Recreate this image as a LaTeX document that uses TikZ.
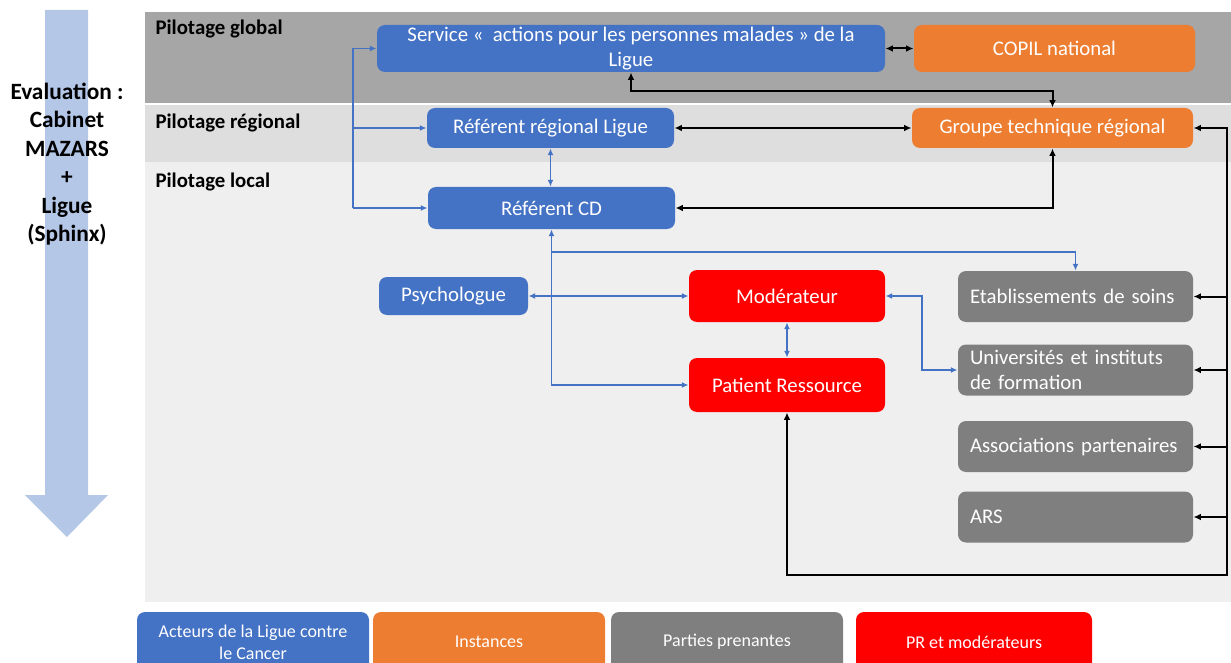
\documentclass[tikz,border=0pt]{standalone}
\usepackage{fontspec}
\setmainfont{Carlito}
\usetikzlibrary{arrows.meta}

\definecolor{ligueblue}{RGB}{68,114,196}
\definecolor{instorange}{RGB}{237,125,49}
\definecolor{partgray}{RGB}{127,127,127}
\definecolor{prred}{RGB}{255,0,0}
\definecolor{bandglobal}{RGB}{166,166,166}
\definecolor{bandreg}{RGB}{222,222,222}
\definecolor{bandloc}{RGB}{239,239,239}
\definecolor{evalarrow}{RGB}{180,199,231}

\tikzset{every picture/.style={line width=0.75pt},
  panel/.style={rounded corners=6pt, text=white, inner sep=0pt, align=center, font=\fontsize{15.6}{18.75}\selectfont},
  acteur/.style={panel, fill=ligueblue},
  instance/.style={panel, fill=instorange},
  prbox/.style={panel, fill=prred},
  partie/.style={panel, fill=partgray, align=left, text width=158.25pt, inner xsep=9pt, minimum width=176.25pt, minimum height=38.25pt},
  legbox/.style={panel, minimum width=174pt, minimum height=45pt, font=\fontsize{13.5}{16.5}\selectfont},
  bandlabel/.style={anchor=west, inner sep=0pt, font=\bfseries\fontsize{15.6}{18}\selectfont},
  bline/.style={draw=ligueblue, line width=1.1pt, -{Latex[length=5pt,width=4.5pt]}},
  kline/.style={draw=black, line width=1.5pt, -{Latex[length=5.5pt,width=5pt]}},
}

\begin{document}
\begin{tikzpicture}[x=0.75pt,y=0.75pt,yscale=-1,xscale=1]
\clip (0,0) rectangle (1231,663);

% bandes de pilotage
\fill[bandglobal] (145,12) rectangle (1231,103);
\fill[bandreg] (145,105) rectangle (1231,162);
\fill[bandloc] (145,162) rectangle (1231,602);
\node[bandlabel] (pglobal) at (155,29) {Pilotage global};
\node[bandlabel] (pregional) at (155,123) {Pilotage régional};
\node[bandlabel] (plocal) at (155,182) {Pilotage local};

% fleche evaluation
\fill[evalarrow] (45,10) -- (88,10) -- (88,495) -- (108,495) -- (67,537) -- (25,495) -- (45,495) -- cycle;
\node[align=center, font=\bfseries\fontsize{17.5}{21.4}\selectfont] (evaluation) at (67,164) {Evaluation :\\Cabinet\\MAZARS\\+\\Ligue\\(Sphinx)};

% acteurs
\node[acteur, minimum width=381pt, minimum height=35.25pt] (service) at (631,48.5) {Service «\ \ actions pour les personnes malades » de la\\Ligue};
\node[instance, minimum width=210.75pt, minimum height=35.25pt] (copil) at (1054.5,48.5) {COPIL national};
\node[acteur, minimum width=185.25pt, minimum height=30pt] (refreg) at (550.5,128) {Référent régional Ligue};
\node[instance, minimum width=210.75pt, minimum height=30pt] (gtr) at (1052.5,128) {Groupe technique régional};
\node[acteur, minimum width=185.25pt, minimum height=31.5pt] (refcd) at (551.5,208) {Référent CD};
\node[acteur, minimum width=111.75pt, minimum height=28.5pt] (psy) at (453.5,296) {Psychologue};
\node[prbox, minimum width=147pt, minimum height=39pt] (mod) at (787,296) {Modérateur};
\node[prbox, minimum width=147pt, minimum height=40.5pt] (pr) at (787,385) {Patient Ressource};
\node[partie] (etab) at (1075.5,296.5) {Etablissements de soins};
\node[partie] (univ) at (1075.5,370) {Universités et instituts\\de formation};
\node[partie] (assoc) at (1075.5,446.5) {Associations partenaires};
\node[partie] (ars) at (1075.5,517) {ARS};

% legende
\node[legbox, fill=ligueblue] (legacteur) at (253,642) {Acteurs de la Ligue contre\\le Cancer};
\node[legbox, fill=instorange] (leginstance) at (489,642) {Instances};
\node[legbox, fill=partgray] (legpartie) at (727,642) {Parties prenantes};
\node[legbox, fill=prred, minimum width=177pt] (legpr) at (974,642) {PR et modérateurs};

% liens bleus
\coordinate (bus1) at (353,48.5);
\coordinate (bus2) at (353,208);
\draw[bline, -] (bus1) -- (bus2);
\draw[bline] (bus1) -- (service.west);
\draw[bline] (bus1 |- refreg) -- (refreg.west);
\draw[bline] (bus2) -- (refcd.west);
\draw[bline, {Latex[length=5pt,width=4.5pt]}-{Latex[length=5pt,width=4.5pt]}] (refreg.south) -- (refreg.south |- refcd.north);
\draw[bline, {Latex[length=5pt,width=4.5pt]}-{Latex[length=5pt,width=4.5pt]}] (refcd.south) |- (pr.west);
\coordinate (fork) at (551.5,252);
\draw[bline] (fork) -| (etab.north);
\draw[bline, {Latex[length=5pt,width=4.5pt]}-{Latex[length=5pt,width=4.5pt]}] (psy.east) -- (mod.west);
\draw[bline, {Latex[length=5pt,width=4.5pt]}-{Latex[length=5pt,width=4.5pt]}] (mod.south) -- (pr.north);
\coordinate (modknee) at (922,296);
\draw[bline, {Latex[length=5pt,width=4.5pt]}-{Latex[length=5pt,width=4.5pt]}] (mod.east) -- (modknee) |- (univ.west);

% liens noirs
\draw[kline, {Latex[length=5.5pt,width=5pt]}-{Latex[length=5.5pt,width=5pt]}] (service.east) -- (copil.west);
\coordinate (topknee) at (631,91);
\draw[kline, {Latex[length=5.5pt,width=5pt]}-{Latex[length=5.5pt,width=5pt]}] (service.south) -- (topknee) -| (gtr.north);
\draw[kline, {Latex[length=5.5pt,width=5pt]}-{Latex[length=5.5pt,width=5pt]}] (refreg.east) -- (gtr.west);
\draw[kline, {Latex[length=5.5pt,width=5pt]}-{Latex[length=5.5pt,width=5pt]}] (refcd.east) -| (gtr.south);
\coordinate (rtop) at (1227,128);
\coordinate (rbot) at (1227,575);
\draw[kline, {Latex[length=5.5pt,width=5pt]}-{Latex[length=5.5pt,width=5pt]}] (gtr.east) -- (rtop) -- (rbot) -| (pr.south);
\foreach \n in {etab,univ,assoc,ars}
  \draw[kline] (rtop |- \n) -- (\n.east);

\end{tikzpicture}
\end{document}
